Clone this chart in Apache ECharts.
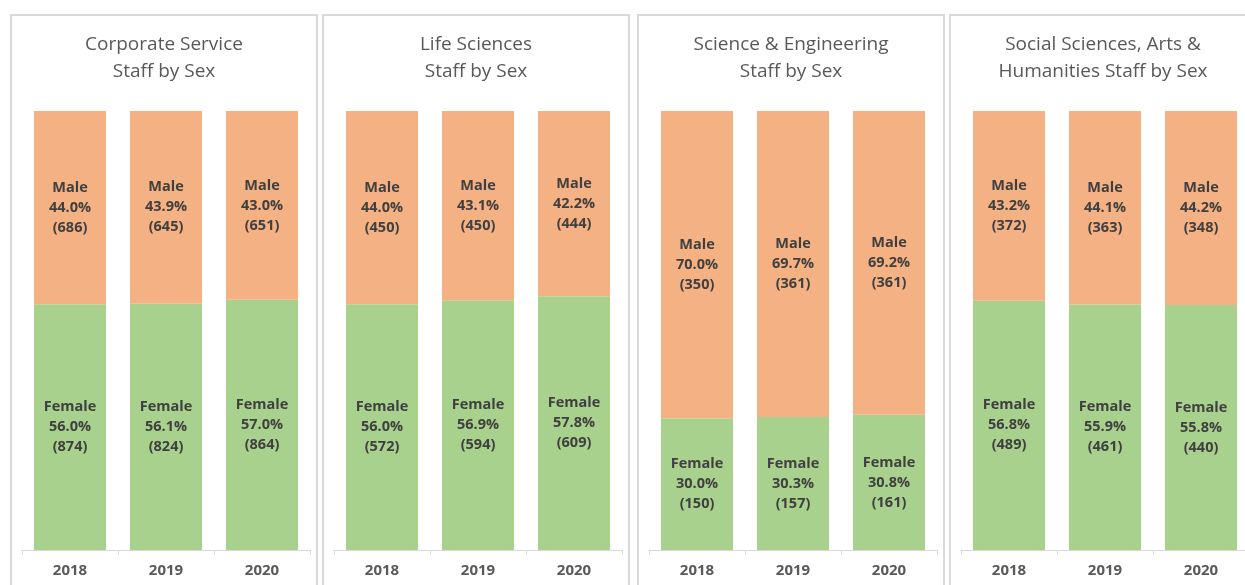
<!DOCTYPE html>
<html>
<head>
<meta charset="utf-8">
<script src="https://cdn.jsdelivr.net/npm/echarts@6/dist/echarts.min.js"></script>
<style>
  html, body { margin: 0; padding: 0; background: #fff; width: 1245px; height: 585px; overflow: hidden; }
  .panel { position: absolute; top: 14px; width: 304px; height: 600px; border: 2px solid #d9d9d9; background: #fff; }
</style>
</head>
<body>
<div id="wrap"></div>
<script>
const years = ['2018', '2019', '2020']
const titles = [
  'Corporate Service\nStaff by Sex',
  'Life Sciences\nStaff by Sex',
  'Science & Engineering\nStaff by Sex',
  'Social Sciences, Arts &\nHumanities Staff by Sex',
]
// percentages
const femalePct = [
  [56.0, 56.1, 57.0],
  [56.0, 56.9, 57.8],
  [30.0, 30.3, 30.8],
  [56.8, 55.9, 55.8],
]
const malePct = [
  [44.0, 43.9, 43.0],
  [44.0, 43.1, 42.2],
  [70.0, 69.7, 69.2],
  [43.2, 44.1, 44.2],
]
// head counts
const femaleCount = [
  [874, 824, 864],
  [572, 594, 609],
  [150, 157, 161],
  [489, 461, 440],
]
const maleCount = [
  [686, 645, 651],
  [450, 450, 444],
  [350, 361, 361],
  [372, 363, 348],
]

const panelLeft = [10, 322, 637, 949]

function labelFor(counts) {
  return {
    show: true,
    position: 'inside',
    color: '#404040',
    fontFamily: 'Open Sans',
    fontWeight: 'bold',
    fontSize: 14.5,
    lineHeight: 20,
    formatter: (p) => p.seriesName + '\n' + p.value.toFixed(1) + '%\n(' + counts[p.dataIndex] + ')',
  }
}

titles.forEach((t, i) => {
  const el = document.createElement('div')
  el.className = 'panel'
  el.style.left = panelLeft[i] + 'px'
  document.getElementById('wrap').appendChild(el)

  const chart = echarts.init(el, null, { renderer: 'canvas' })
  chart.setOption({
    animation: false,
    title: {
      text: t,
      left: 'center',
      top: 10,
      textStyle: {
        fontFamily: 'Open Sans',
        fontWeight: 'normal',
        fontSize: 19,
        lineHeight: 27,
        color: '#595959',
      },
    },
    grid: {
      left: 10,
      width: 288,
      top: 95,
      height: 439,
    },
    xAxis: {
      type: 'category',
      data: years,
      axisLine: { lineStyle: { color: '#d9d9d9', width: 1 } },
      axisTick: { show: true, length: 5, lineStyle: { color: '#d9d9d9' } },
      axisLabel: {
        color: '#595959',
        fontFamily: 'Open Sans',
        fontWeight: 'bold',
        fontSize: 15,
        margin: 13,
      },
    },
    yAxis: {
      type: 'value',
      min: 0,
      max: 100,
      show: false,
    },
    series: [
      {
        name: 'Female',
        type: 'bar',
        stack: 'sex',
        barWidth: '75%',
        data: femalePct[i],
        itemStyle: { color: '#a9d18e' },
        label: labelFor(femaleCount[i]),
      },
      {
        name: 'Male',
        type: 'bar',
        stack: 'sex',
        barWidth: '75%',
        data: malePct[i],
        itemStyle: { color: '#f4b183' },
        label: labelFor(maleCount[i]),
      },
    ],
  })
})
</script>
</body>
</html>
